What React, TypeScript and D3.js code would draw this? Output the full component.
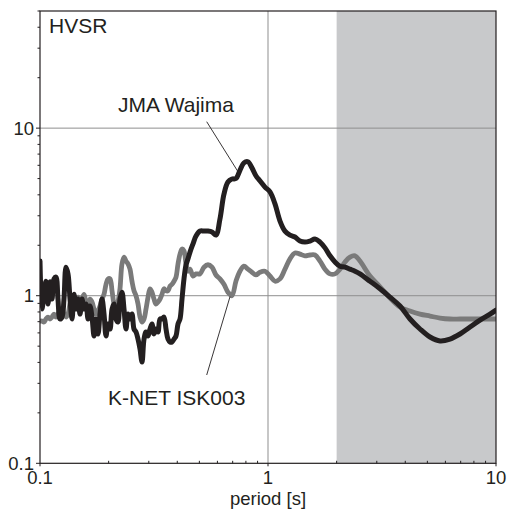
import React from "react";
import * as d3 from "d3";

// Period axis samples [s]
const periods = [
  0.1, 0.102, 0.1041, 0.1062, 0.1084, 0.1106, 0.1129, 0.1152, 0.1175, 0.1199,
  0.1224, 0.1249, 0.1274, 0.13, 0.1327, 0.1354, 0.1382, 0.141, 0.1439, 0.1468,
  0.1498, 0.1528, 0.156, 0.1592, 0.1624, 0.1657, 0.1691, 0.1726, 0.1761, 0.1797,
  0.1833, 0.1871, 0.1909, 0.1948, 0.1988, 0.2028, 0.207, 0.2112, 0.2154, 0.2198,
  0.2243, 0.2289, 0.2336, 0.2383, 0.2432, 0.2482, 0.2532, 0.2584, 0.2637, 0.2691,
  0.2746, 0.2802, 0.2859, 0.2917, 0.2977, 0.3037, 0.3099, 0.3162, 0.3227, 0.3293,
  0.336, 0.3428, 0.3498, 0.357, 0.3642, 0.3717, 0.3793, 0.387, 0.3949, 0.403,
  0.4112, 0.4196, 0.4281, 0.4369, 0.4458, 0.4549, 0.4689, 0.4833, 0.5032, 0.5239,
  0.5455, 0.5679, 0.5913, 0.6156, 0.641, 0.6673, 0.6948, 0.7234, 0.7532, 0.7842,
  0.8165, 0.8501, 0.8851, 0.9216, 0.9701, 1.0204, 1.0732, 1.1288, 1.1872, 1.2487,
  1.3134, 1.3814, 1.453, 1.5282, 1.6073, 1.6906, 1.7783, 1.8704, 1.9673, 2.0692,
  2.1764, 2.2891, 2.4077, 2.5324, 2.8016, 3.0994, 3.4289, 3.7934, 4.1966, 4.6416,
  5.1351, 5.681, 6.2849, 6.9529, 7.692, 8.5097, 9.4143, 10.0,
];

// H/V spectral ratio, JMA Wajima station
const jmaWajima = [
  1.61, 0.833, 1.02, 1.22, 0.892, 1.21, 0.955, 1.26, 1.29, 0.955,
  0.726, 0.746, 0.955, 1.48, 1.35, 0.955, 0.726, 1.02, 0.833, 0.955,
  0.777, 0.955, 0.833, 0.892, 0.726, 0.868, 0.746, 0.575, 0.726, 0.591,
  0.777, 0.955, 0.777, 0.575, 0.678, 0.633, 0.833, 0.892, 0.726, 0.697,
  0.955, 1.05, 0.833, 0.633, 0.777, 0.726, 0.777, 0.633, 0.607, 0.551,
  0.48, 0.402, 0.551, 0.607, 0.575, 0.633, 0.678, 0.591, 0.633, 0.607,
  0.726, 0.726, 0.746, 0.633, 0.551, 0.53, 0.53, 0.551, 0.575, 0.678,
  0.726, 0.955, 1.26, 1.53, 1.66, 1.82, 2.04, 2.27, 2.43, 2.43,
  2.43, 2.4, 2.3, 2.87, 4.04, 4.77, 4.97, 5.0, 5.6, 6.2,
  6.3, 5.8, 5.2, 4.85, 4.45, 4.16, 3.53, 2.79, 2.43, 2.3,
  2.24, 2.12, 2.09, 2.12, 2.18, 2.09, 1.93, 1.73, 1.59, 1.5,
  1.48, 1.44, 1.4, 1.35, 1.22, 1.1, 0.98, 0.868, 0.726, 0.633,
  0.567, 0.537, 0.551, 0.591, 0.65, 0.716, 0.777, 0.82,
];

// H/V spectral ratio, K-NET ISK003 station
const knetIsk003 = [
  0.706, 0.706, 0.697, 0.726, 0.746, 0.726, 0.746, 0.777, 0.746, 0.777,
  0.81, 0.833, 0.777, 0.746, 0.777, 0.892, 0.955, 0.93, 0.955, 0.98,
  0.892, 0.955, 1.02, 0.917, 0.892, 0.955, 0.917, 0.833, 0.777, 0.81,
  0.868, 0.955, 1.02, 1.17, 1.26, 1.26, 1.07, 0.892, 0.833, 0.917,
  1.1, 1.55, 1.7, 1.61, 1.55, 1.44, 1.22, 1.07, 1.0, 0.892,
  0.746, 0.697, 0.726, 0.833, 0.98, 1.1, 1.05, 0.955, 0.892, 0.917,
  0.955, 1.02, 1.1, 1.07, 1.07, 1.14, 1.17, 1.22, 1.29, 1.55,
  1.77, 1.9, 1.85, 1.55, 1.4, 1.44, 1.31, 1.35, 1.35, 1.48,
  1.53, 1.48, 1.33, 1.26, 1.17, 1.05, 1.0, 1.22, 1.4, 1.5,
  1.44, 1.38, 1.33, 1.38, 1.4, 1.31, 1.22, 1.26, 1.44, 1.66,
  1.8, 1.77, 1.73, 1.75, 1.75, 1.61, 1.44, 1.35, 1.35, 1.44,
  1.59, 1.7, 1.73, 1.61, 1.31, 1.13, 0.97, 0.856, 0.81, 0.777,
  0.756, 0.736, 0.726, 0.726, 0.726, 0.726, 0.726, 0.726,
];

const xMajorTicks = [0.1, 1, 10];
const xTickLabels = ["0.1", "1", "10"];
const yMajorTicks = [0.1, 1, 10];
const yTickLabels = ["0.1", "1", "10"];
const shadedRange = [2, 10];

const W = 508;
const H = 511;
const M = { left: 40, right: 496, top: 11, bottom: 463.3 };
const FONT = "'Liberation Sans', Arial, Helvetica, sans-serif";

export default function App() {
  const x = d3.scaleLog().domain([0.1, 10]).range([M.left, M.right]);
  const y = d3.scaleLog().domain([0.1, 50]).range([M.bottom, M.top]);

  const line = d3
    .line<number>()
    .x((_, i) => x(periods[i]))
    .y((d) => y(d))
    .curve(d3.curveCatmullRom.alpha(0.5));

  const xMinor: number[] = [];
  [0.1, 1].forEach((b) => {
    for (let k = 2; k <= 9; k++) xMinor.push(b * k);
  });
  const yMinor: number[] = [];
  [0.1, 1, 10].forEach((b) => {
    for (let k = 2; k <= 9; k++) if (b * k <= 50) yMinor.push(b * k);
  });

  return (
    <svg
      width={W}
      height={H}
      style={{ position: "absolute", left: 0, top: 0, background: "#fff" }}
    >
      <defs>
        <clipPath id="plot">
          <rect x={M.left} y={M.top} width={M.right - M.left} height={M.bottom - M.top} />
        </clipPath>
      </defs>

      {/* long-period band */}
      <rect
        x={x(shadedRange[0])}
        y={M.top}
        width={x(shadedRange[1]) - x(shadedRange[0])}
        height={M.bottom - M.top}
        fill="#c8c9cb"
      />

      {/* grid */}
      <g stroke="#8f8f8f" strokeWidth={1}>
        <line x1={x(1)} x2={x(1)} y1={M.top} y2={M.bottom} />
        <line x1={M.left} x2={M.right} y1={y(1)} y2={y(1)} />
        <line x1={M.left} x2={M.right} y1={y(10)} y2={y(10)} />
      </g>

      {/* series */}
      <g clipPath="url(#plot)" fill="none" strokeLinejoin="round" strokeLinecap="round">
        <path d={line(knetIsk003) || ""} stroke="#7a7a7a" strokeWidth={4.8} />
        <path d={line(jmaWajima) || ""} stroke="#231f20" strokeWidth={5} />
      </g>

      {/* frame */}
      <rect
        x={M.left}
        y={M.top}
        width={M.right - M.left}
        height={M.bottom - M.top}
        fill="none"
        stroke="#231f20"
        strokeWidth={1.2}
      />

      {/* ticks */}
      <g stroke="#231f20" strokeWidth={1}>
        {yMajorTicks.map((t) => (
          <line key={"ym" + t} x1={M.left - 4} x2={M.left} y1={y(t)} y2={y(t)} />
        ))}
        {yMinor.map((t) => (
          <line key={"yn" + t} x1={M.left - 2.5} x2={M.left} y1={y(t)} y2={y(t)} />
        ))}
        {xMajorTicks.map((t) => (
          <line key={"xm" + t} x1={x(t)} x2={x(t)} y1={M.bottom} y2={M.bottom + 3} />
        ))}
        {xMinor.map((t) => (
          <line key={"xn" + t} x1={x(t)} x2={x(t)} y1={M.bottom - 2.5} y2={M.bottom} />
        ))}
      </g>

      <g fontFamily={FONT} fill="#231f20" fontSize={18.5}>
        {yMajorTicks.map((t, i) => (
          <text key={"yl" + t} x={M.left - 6} y={y(t)} dy="0.35em" textAnchor="end">
            {yTickLabels[i]}
          </text>
        ))}
        {xMajorTicks.map((t, i) => (
          <text key={"xl" + t} x={x(t)} y={M.bottom + 21} textAnchor="middle">
            {xTickLabels[i]}
          </text>
        ))}
        <text x={(M.left + M.right) / 2} y={505} textAnchor="middle">
          period [s]
        </text>
      </g>

      {/* annotations */}
      <g fontFamily={FONT} fill="#231f20" fontSize={21}>
        <text x={49} y={33}>HVSR</text>
        <text x={118} y={111.5}>JMA Wajima</text>
        <text x={108} y={405}>K-NET ISK003</text>
      </g>
      <g stroke="#231f20" strokeWidth={0.9}>
        <line x1={206.7} y1={121.7} x2={238} y2={171.7} />
        <line x1={230} y1={296.7} x2={206.7} y2={375} />
      </g>
    </svg>
  );
}
